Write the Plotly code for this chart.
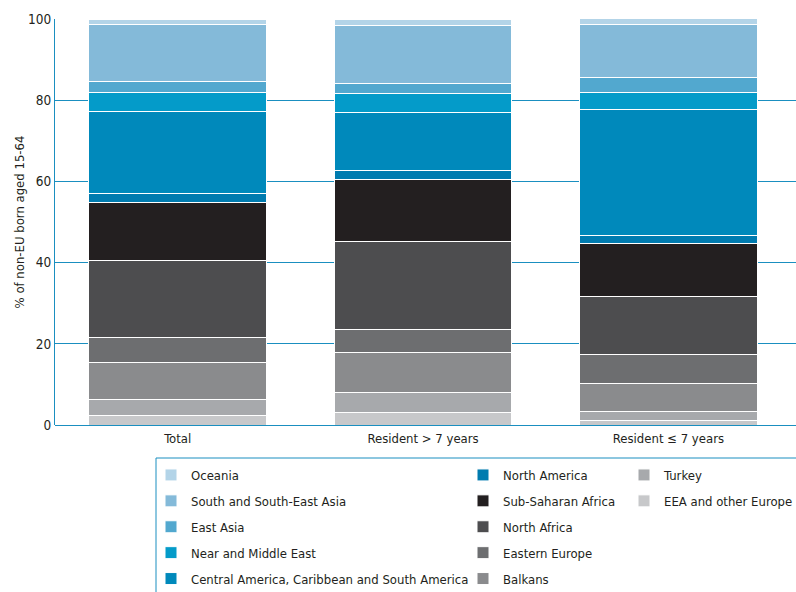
import plotly.graph_objects as go

categories = ["Total", "Resident > 7 years", "Resident ≤ 7 years"]

# Stack order bottom -> top
regions = [
    "EEA and other Europe", "Turkey", "Balkans", "Eastern Europe",
    "North Africa", "Sub-Saharan Africa", "North America",
    "Central America, Caribbean and South America", "Near and Middle East",
    "East Asia", "South and South-East Asia", "Oceania",
]
eea = [2.4, 3.0, 1.2]
turkey = [3.9, 4.9, 2.2]
balkans = [9.2, 10.0, 6.9]
eastern_europe = [6.0, 5.7, 7.1]
north_africa = [18.9, 21.5, 14.3]
sub_saharan = [14.5, 15.3, 13.1]
north_america = [2.2, 2.2, 1.9]
central_america = [20.2, 14.4, 30.9]
near_middle_east = [4.5, 4.7, 4.3]
east_asia = [2.7, 2.3, 3.6]
south_se_asia = [14.1, 14.5, 13.1]
oceania = [1.4, 1.5, 1.6]

series = [eea, turkey, balkans, eastern_europe, north_africa, sub_saharan,
          north_america, central_america, near_middle_east, east_asia,
          south_se_asia, oceania]
colors = ["#C7C8CA", "#A7A9AC", "#8A8B8D", "#6D6E70", "#4D4D4F", "#231F20",
          "#007BAF", "#0089BB", "#049BC9", "#52A8CF", "#84BAD9", "#B3D4E8"]
legend_of = {
    "Oceania": "legend", "South and South-East Asia": "legend", "East Asia": "legend",
    "Near and Middle East": "legend", "Central America, Caribbean and South America": "legend",
    "North America": "legend2", "Sub-Saharan Africa": "legend2", "North Africa": "legend2",
    "Eastern Europe": "legend2", "Balkans": "legend2",
    "Turkey": "legend3", "EEA and other Europe": "legend3",
}
rank = {name: i for i, name in enumerate(reversed(regions))}

FONT = "DejaVu Sans Condensed, sans-serif"
TXT = "#231F20"
BLUE = "#1A8FC0"
FS = 13

L, T, B = 55, 19, 167
PW, PH = 796 - L, 592 - T - B

fig = go.Figure()
for name, vals, col in zip(regions, series, colors):
    fig.add_trace(go.Bar(
        x=categories, y=vals, name=name,
        marker=dict(color=col, line=dict(color="white", width=1)),
        legend=legend_of[name], legendgroup=name, legendrank=rank[name],
        hoverinfo="skip",
    ))

common_leg = dict(orientation="v", traceorder="grouped", tracegroupgap=6,
                  font=dict(family=FONT, size=FS, color=TXT),
                  bgcolor="rgba(0,0,0,0)", borderwidth=0,
                  xanchor="left", yanchor="top", y=(425 - 460) / PH)

fig.update_layout(
    barmode="stack",
    bargap=0.275,
    width=796, height=592,
    margin=dict(l=L, r=0, t=T, b=B, autoexpand=False),
    paper_bgcolor="white", plot_bgcolor="white",
    font=dict(family=FONT, size=FS, color=TXT),
    xaxis=dict(range=[-0.5, 2.52], showline=False, ticks="", showgrid=False,
               automargin=False, ticklabelstandoff=4,
               tickfont=dict(size=FS, color=TXT)),
    yaxis=dict(range=[0, 100], dtick=20, showgrid=True, gridcolor=BLUE, gridwidth=1,
               showline=True, linecolor=BLUE, linewidth=1, zeroline=True,
               zerolinecolor=BLUE, zerolinewidth=1, ticks="", automargin=False,
               tickfont=dict(size=FS + 0.5, color=TXT),
               title=dict(text="% of non-EU born aged 15-64", standoff=0,
                          font=dict(size=FS, color=TXT))),
    legend=dict(x=(151 - L) / PW, **common_leg),
    legend2=dict(x=(463 - L) / PW, **common_leg),
    legend3=dict(x=(624 - L) / PW, **common_leg),
    shapes=[dict(type="rect", xref="paper", yref="paper",
                 x0=(156 - L) / PW, x1=1.01, y0=-0.5, y1=(425 - 458) / PH,
                 line=dict(color=BLUE, width=1), fillcolor="rgba(0,0,0,0)")],
)

fig.write_html("out.html", config={"displayModeBar": False},
               post_script="document.body.style.margin='0';document.body.style.overflow='hidden';")
